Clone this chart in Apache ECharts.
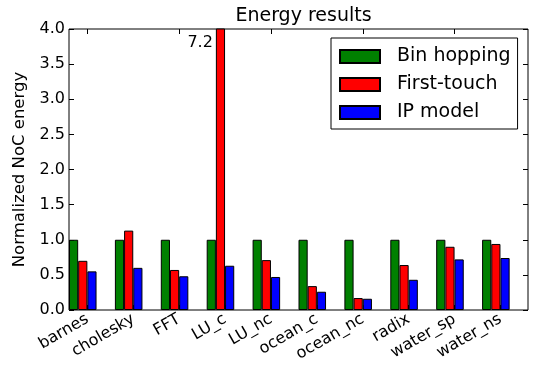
<!DOCTYPE html>
<html>
<head>
<meta charset="utf-8">
<script src="https://cdn.jsdelivr.net/npm/echarts@6/dist/echarts.min.js"></script>
<style>html,body{margin:0;padding:0;background:#fff}#c{width:538px;height:368px}</style>
</head>
<body>
<div id="c"></div>
<script>
const categories = ['barnes','cholesky','FFT','LU_c','LU_nc','ocean_c','ocean_nc','radix','water_sp','water_ns'];
const binHopping = [1.0, 1.0, 1.0, 1.0, 1.0, 1.0, 1.0, 1.0, 1.0, 1.0];
const firstTouch = [0.70, 1.13, 0.57, 7.2, 0.71, 0.34, 0.17, 0.64, 0.90, 0.94];
const ipModel = [0.55, 0.60, 0.48, 0.63, 0.47, 0.26, 0.16, 0.43, 0.72, 0.74];
const yTicks = [0, 0.5, 1.0, 1.5, 2.0, 2.5, 3.0, 3.5, 4.0];

const FONT = 'DejaVu Sans';
const yMin = yTicks[0], yMax = yTicks[yTicks.length - 1], yStep = yTicks[1] - yTicks[0];
const L = 69, T = 29, W = 459, H = 281;
const band = W / categories.length;
const barW = band * 0.2;

const chart = echarts.init(document.getElementById('c'), null, {renderer: 'canvas'});

function withOverflowLabels(arr) {
  return arr.map(v => v > yMax ? {
    value: v,
    label: {show: true, position: [-3, 14], align: 'right', verticalAlign: 'middle',
      formatter: String(v), color: '#000', fontSize: 16, fontFamily: FONT}
  } : v);
}

const commonBar = {
  type: 'bar', xAxisIndex: 1, yAxisIndex: 2, barWidth: barW, barGap: 0,
  clip: true, emphasis: {disabled: true}
};

chart.setOption({
  animation: false,
  title: {
    text: 'Energy results', left: L + W / 2, top: 2, textAlign: 'center',
    textStyle: {fontFamily: FONT, fontSize: 19, fontWeight: 'normal', color: '#000'}
  },
  legend: {
    orient: 'vertical', left: 331, top: 38,
    icon: 'rect',
    itemWidth: 40, itemHeight: 13, itemGap: 9,
    padding: [9, 7, 7, 8],
    borderColor: '#000', borderWidth: 1, backgroundColor: '#fff',
    selectedMode: false,
    textStyle: {fontFamily: FONT, fontSize: 19, color: '#000', padding: [0, 0, 0, 12]},
    data: ['Bin hopping', 'First-touch', 'IP model']
  },
  grid: [
    {left: L, top: T, width: W, height: H, show: true, borderColor: '#000', borderWidth: 1, backgroundColor: 'transparent'},
    {left: L - (band / 2 - 1.5 * barW), top: T, width: W, height: H},
    {left: L + 2 * barW - band / 2, top: T, width: W, height: H}
  ],
  xAxis: [
    {gridIndex: 0, type: 'category', data: categories, show: false},
    {gridIndex: 1, type: 'category', data: categories, show: false},
    {gridIndex: 2, type: 'category', data: categories, position: 'bottom',
      axisLine: {show: false},
      axisTick: {show: true, inside: true, length: 5, alignWithLabel: true, lineStyle: {color: '#000'}},
      axisLabel: {rotate: 30, margin: 8, fontFamily: FONT, fontSize: 16, color: '#000', interval: 0}},
    {gridIndex: 2, type: 'category', data: categories, position: 'top',
      axisLine: {show: false},
      axisTick: {show: true, inside: true, length: 5, alignWithLabel: true, lineStyle: {color: '#000'}},
      axisLabel: {show: false}}
  ],
  yAxis: [
    {gridIndex: 0, type: 'value', min: yMin, max: yMax, interval: yStep, position: 'left',
      name: 'Normalized NoC energy', nameLocation: 'middle', nameGap: 35,
      nameTextStyle: {fontFamily: FONT, fontSize: 16.5, color: '#000'},
      axisLine: {show: false}, splitLine: {show: false},
      axisTick: {show: true, inside: true, length: 5, lineStyle: {color: '#000'}},
      axisLabel: {margin: 4, fontFamily: FONT, fontSize: 16, color: '#000', formatter: v => v.toFixed(1)}},
    {gridIndex: 0, type: 'value', min: yMin, max: yMax, interval: yStep, position: 'right',
      axisLine: {show: false}, splitLine: {show: false},
      axisTick: {show: true, inside: true, length: 5, lineStyle: {color: '#000'}},
      axisLabel: {show: false}},
    {gridIndex: 1, type: 'value', min: yMin, max: yMax, interval: yStep, show: false, splitLine: {show: false}},
    {gridIndex: 2, type: 'value', min: yMin, max: yMax, interval: yStep, show: false, splitLine: {show: false}}
  ],
  series: [
    Object.assign({name: 'Bin hopping', data: binHopping,
      itemStyle: {color: '#008000', borderColor: '#000', borderWidth: 1}}, commonBar),
    Object.assign({name: 'First-touch', data: withOverflowLabels(firstTouch),
      itemStyle: {color: '#ff0000', borderColor: '#000', borderWidth: 1}}, commonBar),
    Object.assign({name: 'IP model', data: ipModel,
      itemStyle: {color: '#0000ff', borderColor: '#000', borderWidth: 1}}, commonBar)
  ]
});
</script>
</body>
</html>
